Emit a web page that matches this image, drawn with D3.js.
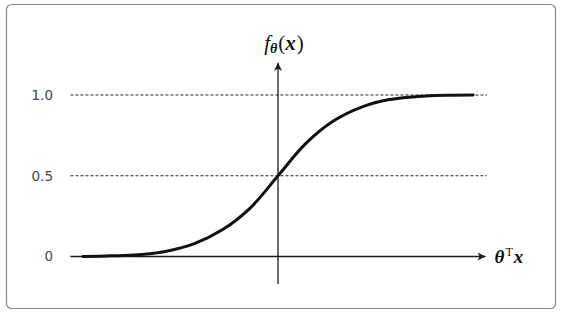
<!DOCTYPE html>
<html>
<head>
<meta charset="utf-8">
<script src="https://cdn.jsdelivr.net/npm/d3@7/dist/d3.min.js"></script>
<style>
  body { margin: 0; background: #fff; }
  svg { display: block; }
</style>
</head>
<body>
<svg id="graph"></svg>
<script>
// curve points (x in units of θᵀx, y = f value)
var curveX = [-7, -6, -5, -4, -3, -2, -1, 0, 1, 2, 3, 4, 5, 6, 7];
var curveY = [0.0, 0.004, 0.011, 0.033, 0.08, 0.165, 0.30, 0.5, 0.70, 0.84, 0.925, 0.972, 0.99, 0.998, 1.0];

var tickValues = [0, 0.5, 1.0];
var tickLabels = ["0", "0.5", "1.0"];
var guideValues = [0.5, 1.0];

var width = 562, height = 314;

var svg = d3.select("#graph")
  .attr("width", width)
  .attr("height", height);

// Set the ranges
var x = d3.scaleLinear().domain([-7, 7]).range([83, 473]);
var y = d3.scaleLinear().domain([0, 1]).range([256.5, 95]);

// frame
svg.append("rect")
  .attr("x", 6.5).attr("y", 4.5)
  .attr("width", 549).attr("height", 304)
  .attr("rx", 5)
  .attr("fill", "#fff")
  .attr("stroke", "#8a8a8a")
  .attr("stroke-width", 1.2);

// arrow marker
svg.append("defs").append("marker")
    .attr("id", "arrow")
    .attr("viewBox", "0 0 10 10")
    .attr("refX", 10).attr("refY", 5)
    .attr("markerUnits", "userSpaceOnUse")
    .attr("markerWidth", 9).attr("markerHeight", 8)
    .attr("orient", "auto")
  .append("path")
    .attr("d", "M0,0 L10,5 L0,10 L2.5,5 Z")
    .attr("fill", "#1a1a1a");

// dashed guide lines
svg.append("g")
  .selectAll("line").data(guideValues).enter().append("line")
    .attr("x1", x(-7.45))
    .attr("x2", x(7.5))
    .attr("y1", d => y(d))
    .attr("y2", d => y(d))
    .attr("stroke", "#222")
    .attr("stroke-width", 1.2)
    .attr("stroke-dasharray", "3,2");

// x axis
svg.append("line")
  .attr("x1", x(-7.45)).attr("x2", x(7.45))
  .attr("y1", y(0)).attr("y2", y(0))
  .attr("stroke", "#1a1a1a")
  .attr("stroke-width", 1.3)
  .attr("marker-end", "url(#arrow)");

// y axis
svg.append("line")
  .attr("x1", x(0)).attr("x2", x(0))
  .attr("y1", y(-0.17)).attr("y2", y(1.2))
  .attr("stroke", "#1a1a1a")
  .attr("stroke-width", 1.3)
  .attr("marker-end", "url(#arrow)");

// tick labels
svg.append("g")
  .selectAll("text").data(tickValues).enter().append("text")
    .attr("x", 53)
    .attr("y", d => y(d))
    .attr("dy", "0.36em")
    .style("text-anchor", "end")
    .style("font-family", "DejaVu Sans, sans-serif")
    .style("font-size", "13.5px")
    .attr("fill", "#444")
    .text((d, i) => tickLabels[i]);

// sigmoid curve
var valueline = d3.line()
  .x(function (d) { return x(d[0]); })
  .y(function (d) { return y(d[1]); })
  .curve(d3.curveCatmullRom.alpha(0.5));

svg.append("path")
  .datum(d3.zip(curveX, curveY))
  .attr("d", valueline)
  .attr("fill", "none")
  .attr("stroke", "#111")
  .attr("stroke-width", 3)
  .attr("stroke-linecap", "round");

// y label f_θ(x)
var ylab = svg.append("text")
  .attr("x", x(0) + 6)
  .attr("y", 50)
  .style("text-anchor", "middle")
  .style("font-family", "Liberation Serif, DejaVu Serif, serif")
  .style("font-size", "21px")
  .attr("fill", "#111");
ylab.append("tspan").style("font-style", "italic").text("f");
ylab.append("tspan").attr("dy", 3).style("font-size", "14px")
  .style("font-style", "italic").style("font-weight", "bold").text("θ");
ylab.append("tspan").attr("dy", -3).attr("dx", 1).text("(");
ylab.append("tspan").style("font-style", "italic").style("font-weight", "bold").text("x");
ylab.append("tspan").attr("dx", 1).text(")");

// x label θᵀx
var xlab = svg.append("text")
  .attr("x", x(7.45) + 9)
  .attr("y", y(0) + 6)
  .style("font-family", "Liberation Serif, DejaVu Serif, serif")
  .style("font-size", "19px")
  .attr("fill", "#111");
xlab.append("tspan").style("font-style", "italic").style("font-weight", "bold").text("θ");
xlab.append("tspan").attr("dy", -7).attr("dx", 1).style("font-size", "12px").text("T");
xlab.append("tspan").attr("dy", 7).attr("dx", 1).style("font-style", "italic").style("font-weight", "bold").text("x");
</script>
</body>
</html>
